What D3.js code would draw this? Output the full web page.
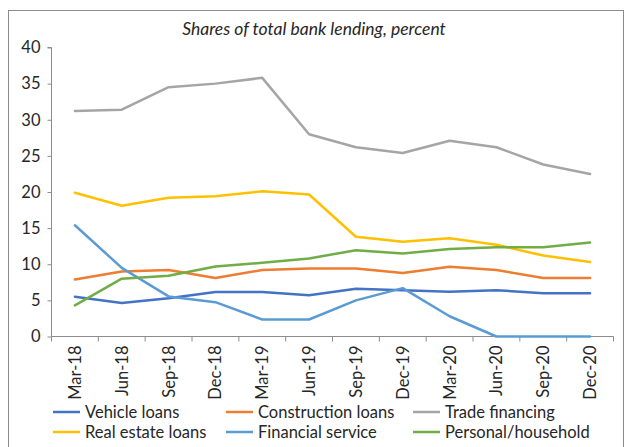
<!DOCTYPE html>
<html><head><meta charset="utf-8">
<script src="https://cdn.jsdelivr.net/npm/d3@7"></script>
<style>body{margin:0;background:#fff}svg{display:block}</style>
</head><body><svg id="c" width="625" height="447"></svg>
<script>
const categories = ["Mar-18","Jun-18","Sep-18","Dec-18","Mar-19","Jun-19","Sep-19","Dec-19","Mar-20","Jun-20","Sep-20","Dec-20"];
const vehicleLoans      = [5.5, 4.65, 5.3, 6.15, 6.15, 5.7, 6.6, 6.4, 6.2, 6.4, 6.0, 6.0];
const constructionLoans = [7.9, 9.0, 9.2, 8.1, 9.2, 9.4, 9.4, 8.8, 9.65, 9.2, 8.1, 8.1];
const tradeFinancing    = [31.2, 31.4, 34.5, 35.0, 35.8, 28.0, 26.2, 25.4, 27.1, 26.2, 23.8, 22.5];
const realEstateLoans   = [19.9, 18.1, 19.2, 19.4, 20.1, 19.65, 13.8, 13.1, 13.6, 12.7, 11.2, 10.3];
const financialService  = [15.4, 9.5, 5.55, 4.75, 2.35, 2.35, 5.0, 6.7, 2.8, 0, 0, 0];
const personalHousehold = [4.3, 8.0, 8.4, 9.7, 10.2, 10.8, 11.95, 11.5, 12.1, 12.35, 12.35, 13.0];
const seriesNames  = ["Vehicle loans","Construction loans","Trade financing","Real estate loans","Financial service","Personal/household"];
const seriesColors = ["#4472C4","#ED7D31","#A5A5A5","#FFC000","#5B9BD5","#70AD47"];
const yTicks = [0,5,10,15,20,25,30,35,40];
const title = "Shares of total bank lending, percent";

const series = [vehicleLoans, constructionLoans, tradeFinancing, realEstateLoans, financialService, personalHousehold]
  .map((v,i)=>({name:seriesNames[i], color:seriesColors[i], values:v}));

const svg = d3.select("#c");
const font = "Lato, 'Open Sans', sans-serif";
const axisColor = "#8c8c8c";
const textColor = "#262626";
const fs = 16.5;

// outer border
svg.append("rect").attr("x",8.5).attr("y",10.5).attr("width",615).attr("height",450)
  .attr("fill","none").attr("stroke","#8c8c8c").attr("stroke-width",1);

const x0 = 51.5, x1 = 613.5, yTop = 47.5, yBot = 336.5;
const x = d3.scaleBand().domain(categories).range([x0, x1]);
const y = d3.scaleLinear().domain([0,40]).range([yBot, yTop]);

// title
svg.append("text").attr("x",314).attr("y",34.5).attr("text-anchor","middle")
  .attr("font-family",font).attr("font-size",17.5).attr("font-style","italic")
  .attr("fill",textColor).text(title);

// y axis
const yAxis = svg.append("g").attr("transform",`translate(${x0},0)`)
  .call(d3.axisLeft(y).tickValues(yTicks).tickSize(4).tickPadding(7));
yAxis.selectAll("path,line").attr("stroke",axisColor);
yAxis.select(".domain").attr("d",`M-4,${yTop}H0V${yBot}`);
yAxis.selectAll("text").attr("font-family",font).attr("font-size",fs).attr("fill",textColor);

// x axis
const xAxis = svg.append("g").attr("transform",`translate(0,${yBot})`);
xAxis.append("line").attr("x1",x0).attr("x2",x1).attr("stroke",axisColor);
const bounds = categories.map(c=>x(c)).concat([x1]);
xAxis.selectAll("line.tk").data(bounds).enter().append("line").attr("class","tk")
  .attr("x1",d=>d).attr("x2",d=>d).attr("y1",0).attr("y2",5).attr("stroke",axisColor);
xAxis.selectAll("text").data(categories).enter().append("text")
  .attr("transform",d=>`translate(${x(d)+x.bandwidth()/2+6},9) rotate(-90)`)
  .attr("text-anchor","end").attr("font-family",font).attr("font-size",fs)
  .attr("fill",textColor).text(d=>d);

// lines
const line = d3.line().x((d,i)=>x(categories[i])+x.bandwidth()/2).y(d=>y(d));
svg.append("g").selectAll("path").data(series).enter().append("path")
  .attr("d",d=>line(d.values)).attr("fill","none").attr("stroke",d=>d.color)
  .attr("stroke-width",2.5).attr("stroke-linejoin","round").attr("stroke-linecap","round");

// legend
const colX = [53, 226, 413];
const rowY = [412, 432];
const lg = svg.append("g").selectAll("g").data(series).enter().append("g")
  .attr("transform",(d,i)=>`translate(${colX[i%3]},${rowY[Math.floor(i/3)]})`);
lg.append("line").attr("x1",0).attr("x2",27).attr("stroke",d=>d.color).attr("stroke-width",2.5);
lg.append("text").attr("x",32).attr("y",6).attr("font-family",font).attr("font-size",fs)
  .attr("fill",textColor).text(d=>d.name);
</script></body></html>
